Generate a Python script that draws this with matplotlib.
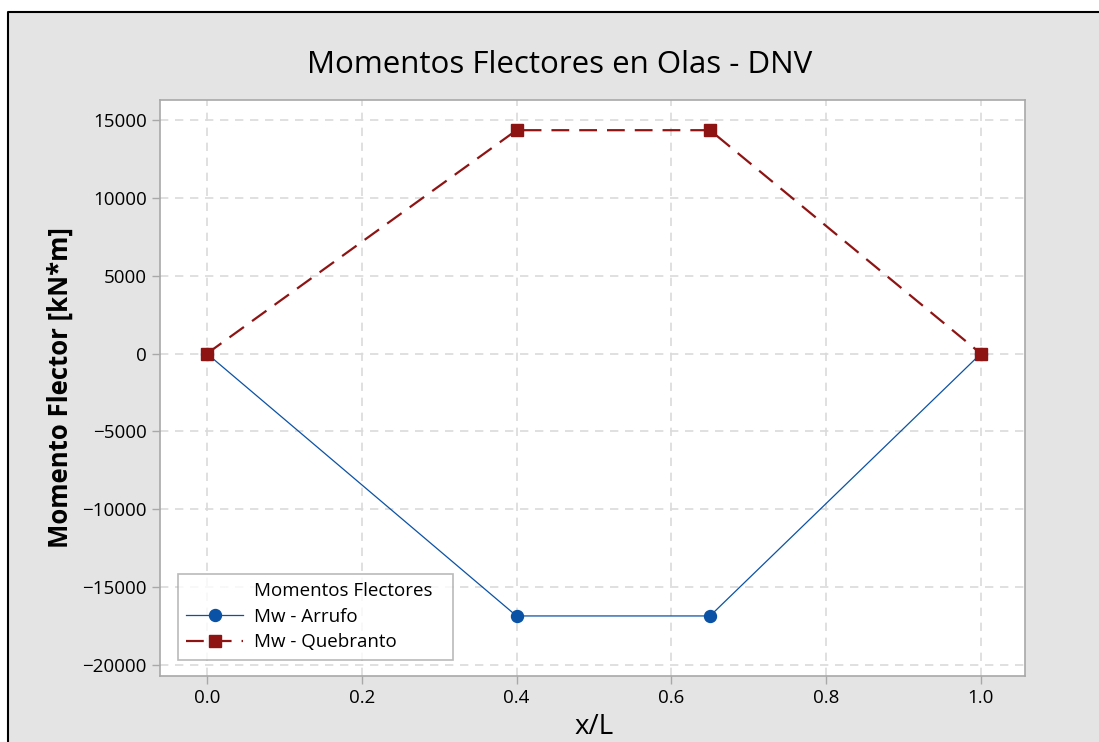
import numpy as np
import matplotlib.pyplot as plt
from matplotlib.lines import Line2D
from matplotlib.patches import Rectangle

plt.rcParams['font.family'] = ['Open Sans', 'DejaVu Sans']

# posiciones a lo largo de la eslora y momentos flectores en olas
x_L = [0.0, 0.4, 0.65, 1.0]
mw_arrufo = [0, -16850, -16850, 0]
mw_quebranto = [0, 14350, 14350, 0]

x_ticks = [0.0, 0.2, 0.4, 0.6, 0.8, 1.0]
y_ticks = [-20000, -15000, -10000, -5000, 0, 5000, 10000, 15000]

W, H = 1099, 742
fig = plt.figure(figsize=(W / 100, H / 100), dpi=100)
fig.patch.set_facecolor('#e4e4e4')

# franjas blancas arriba e izquierda y marco negro
fx, fy = 8 / W, 1 - 12 / H
fig.patches.append(Rectangle((0, fy), 1, 1 - fy, transform=fig.transFigure,
                             facecolor='white', edgecolor='none', zorder=-2))
fig.patches.append(Rectangle((0, 0), fx, 1, transform=fig.transFigure,
                             facecolor='white', edgecolor='none', zorder=-2))
fig.lines.append(Line2D([fx, fx, 1], [0, fy, fy], transform=fig.transFigure,
                        color='black', linewidth=1.5, zorder=-1))

ax = fig.add_axes([160 / W, (H - 676) / H, 865 / W, 576 / H])
ax.set_facecolor('white')

ax.plot(x_L, mw_arrufo, color='#0a52a5', linewidth=0.9, marker='o',
        markersize=8.6, label='Mw - Arrufo', zorder=3)
ax.plot(x_L, mw_quebranto, color='#8e1414', linewidth=1.6, dashes=(8, 4.5),
        marker='s', markersize=8.6, label='Mw - Quebranto', zorder=3)

ax.set_xlim(-0.0607, 1.057)
ax.set_ylim(-20707, 16290)
ax.set_xticks(x_ticks)
ax.set_xticklabels([f'{v:.1f}' for v in x_ticks])
ax.set_yticks(y_ticks)
ax.grid(True, color='#dadada', linestyle=(0, (5, 4)), linewidth=1.2, zorder=1)

for s in ax.spines.values():
    s.set_color('#a8a8a8')
    s.set_linewidth(1.2)
ax.tick_params(colors='#a8a8a8', labelcolor='black', labelsize=13.5,
               length=6, width=1, direction='out')

fig.text(560 / W, 1 - 65 / H, 'Momentos Flectores en Olas - DNV',
         fontsize=22.5, ha='center', va='center')
fig.text(60 / W, 1 - 388 / H, 'Momento Flector [kN*m]', fontsize=18.5,
         fontweight='bold', rotation=90, ha='center', va='center')
fig.text(594 / W, 1 - 727 / H, 'x/L', fontsize=20, ha='center', va='center')

# leyenda con el título alineado a las etiquetas
handles, labels = ax.get_legend_handles_labels()
head = Line2D([], [], color='none')
leg = ax.legend([head] + handles, ['Momentos Flectores'] + labels,
                loc='lower left', bbox_to_anchor=(0.0208, 0.028, 0.318, 0.15),
                mode='expand', fontsize=13.5, frameon=True, fancybox=False,
                edgecolor='#a8a8a8', handlelength=3.0, handletextpad=0.6,
                borderpad=0.45, labelspacing=0.4, borderaxespad=0)
leg.get_frame().set_linewidth(1.2)

fig.savefig('out.png', dpi=100)
